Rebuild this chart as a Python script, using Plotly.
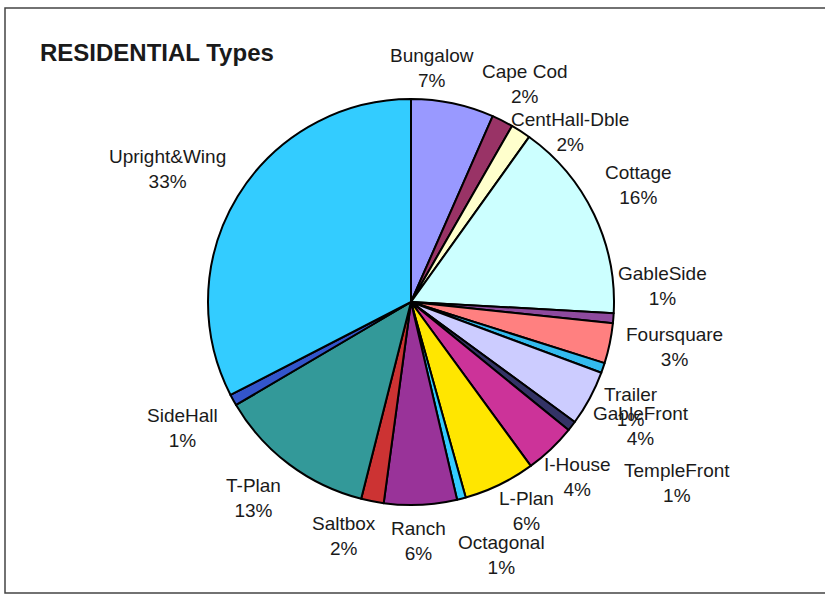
import math
import plotly.graph_objects as go

# residential house types, share of the total
types = ["Bungalow", "Cape Cod", "CentHall-Dble", "Cottage", "GableSide",
         "Foursquare", "Trailer", "GableFront", "TempleFront", "I-House",
         "L-Plan", "Octagonal", "Ranch", "Saltbox", "T-Plan", "SideHall",
         "Upright&Wing"]
shares = [6.6, 1.7, 1.6, 16.0, 0.8,
          3.2, 0.8, 4.4, 0.8, 4.1,
          5.7, 0.7, 5.8, 1.8, 12.6, 0.9,
          32.6]
colours = ["#9999FF", "#993366", "#FFFFCC", "#CCFFFF", "#8E4A9E",
           "#FF8080", "#33BBEE", "#CCCCFF", "#333366", "#CC3399",
           "#FFE600", "#33CCFF", "#993399", "#CC3333", "#339999", "#3355CC",
           "#33CCFF"]

W, H = 825, 603
cx, cy, r = 411, 302, 203
FONT = "Liberation Sans, Arial"

# hand nudges (px) for labels that Excel had moved around
nudge = {"Bungalow": (-32, -1), "Cape Cod": (-2, -6), "CentHall-Dble": (6, 30),
         "Cottage": (-1, -14), "GableSide": (-11, -35), "Foursquare": (1, -4),
         "Trailer": (-19, 28), "GableFront": (-6, 11), "TempleFront": (50, 36),
         "I-House": (-8, 2), "L-Plan": (7, -5), "Octagonal": (25, 22),
         "Ranch": (-4, 1), "Saltbox": (-19, 0), "T-Plan": (-9, 6),
         "SideHall": (-3, 11), "Upright&Wing": (-6, -9)}

fig = go.Figure()
fig.add_pie(
    labels=types, values=shares, sort=False, direction="clockwise", rotation=0,
    marker=dict(colors=colours, line=dict(color="black", width=2)),
    textinfo="none", hoverinfo="label+percent", showlegend=False,
    domain=dict(x=[(cx - r) / W, (cx + r) / W], y=[(H - cy - r) / H, (H - cy + r) / H]),
)

# Excel-style data labels (no leader lines), placed by slice mid-angle
total = sum(shares)
acc = 0
for name, v in zip(types, shares):
    mid = (acc + v / 2) / total * 2 * math.pi
    acc += v
    s, c = math.sin(mid), math.cos(mid)
    hw = 5 * len(name)
    x = cx + (r + 15) * s + hw * s
    y = cy - (r + 15) * c - 20 * c
    dx, dy = nudge.get(name, (0, 0))
    fig.add_annotation(
        x=(x + dx) / W, y=1 - (y + dy) / H, xref="paper", yref="paper",
        text=f"{name}<br>{v / total:.0%}", showarrow=False, align="center",
        xanchor="center", yanchor="middle",
        font=dict(family=FONT, size=19, color="#1a1a1a"),
    )

fig.update_layout(
    width=W, height=H, margin=dict(l=0, r=0, t=0, b=0),
    paper_bgcolor="white", plot_bgcolor="white",
    title=dict(text="<b>RESIDENTIAL Types</b>", x=40 / W, xanchor="left", y=1 - 53 / H, yanchor="middle",
               font=dict(family=FONT, size=24, color="#1a1a1a")),
    shapes=[dict(type="rect", xref="paper", yref="paper", x0=5 / W, x1=1.02, y0=1 - 593 / H, y1=1 - 8 / H,
                 line=dict(color="#444444", width=1.5))],
)
fig.write_html("out.html", config={"displayModeBar": False},
               post_script="document.body.style.margin='0';")
